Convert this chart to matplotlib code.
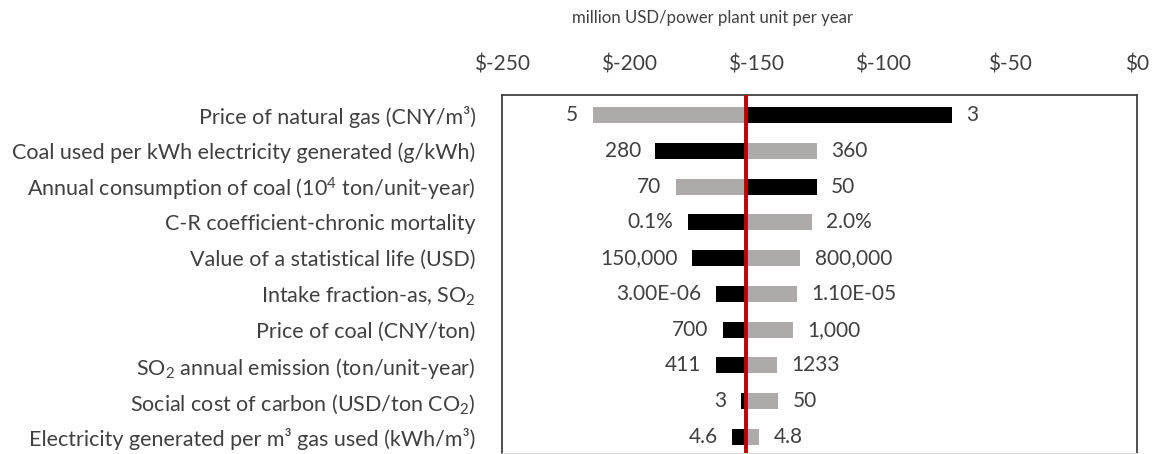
import numpy as np
import matplotlib
matplotlib.use("Agg")
import matplotlib.pyplot as plt
from matplotlib.ticker import FuncFormatter, MultipleLocator

plt.rcParams["font.family"] = ["Lato", "DejaVu Sans"]
plt.rcParams["mathtext.default"] = "regular"

# tornado chart data: result (million USD / unit-year) at low and high input values
labels = [
    "Price of natural gas (CNY/m\u00b3)",
    "Coal used per kWh electricity generated (g/kWh)",
    "Annual consumption of coal (10$^{4}$ ton/unit-year)",
    "C-R coefficient-chronic mortality",
    "Value of a statistical life (USD)",
    "Intake fraction-as, SO$_{2}$",
    "Price of coal (CNY/ton)",
    "SO$_{2}$ annual emission (ton/unit-year)",
    "Social cost of carbon (USD/ton CO$_{2}$)",
    "Electricity generated per m\u00b3 gas used (kWh/m\u00b3)",
]
low_text = ["3", "280", "50", "0.1%", "150,000", "3.00E-06", "700", "411", "3", "4.6"]
high_text = ["5", "360", "70", "2.0%", "800,000", "1.10E-05", "1,000", "1233", "50", "4.8"]
low_result = [-73.0, -189.6, -126.1, -176.9, -175.2, -165.7, -163.1, -165.7, -156.0, -159.3]
high_result = [-214.3, -126.1, -181.5, -128.1, -132.7, -134.0, -135.6, -141.9, -141.2, -148.7]
base = -154.0

BLACK = "#000000"
GREY = "#aeaaaa"
RED = "#c00000"
TXT = "#404040"
FS = 15

W, H = 1156, 454
fig = plt.figure(figsize=(W / 100, H / 100), dpi=100)
ax = fig.add_axes([502 / W, 1 / H, 635 / W, 358 / H])

y = np.arange(len(labels))
bh = 0.45

ax.barh(y, np.array(low_result) - base, left=base, height=bh, color=BLACK)
ax.barh(y, np.array(high_result) - base, left=base, height=bh, color=GREY)
ax.axvline(base, color=RED, lw=2.8, zorder=5)

# value labels at the outer end of each bar
for yi, v, t in list(zip(y, low_result, low_text)) + list(zip(y, high_result, high_text)):
    if v < base:
        ax.annotate(t, (v, yi), xytext=(-10.5, 0), textcoords="offset points",
                    ha="right", va="center", fontsize=FS, color=TXT)
    else:
        ax.annotate(t, (v, yi), xytext=(10.5, 0), textcoords="offset points",
                    ha="left", va="center", fontsize=FS, color=TXT)

ax.set_xlim(-250, 0)
ax.set_ylim(9.45, -0.56)
ax.set_yticks(y)
ax.set_yticklabels(labels, fontsize=15.5, color=TXT)
ax.tick_params(axis="y", length=0, pad=19)

ax.xaxis.set_major_locator(MultipleLocator(50))
ax.xaxis.set_major_formatter(FuncFormatter(lambda v, p: "\\$%d" % v))
ax.xaxis.tick_top()
ax.tick_params(axis="x", length=0, pad=15, labelsize=FS, labelcolor=TXT)

# axis title sits left of the axis centre in the original
fig.text(713 / W, 1 - 18 / H, "million USD/power plant unit per year",
         fontsize=12.1, color=TXT, ha="center", va="center")

for side in ["top", "left", "right"]:
    ax.spines[side].set_color("#404040")
    ax.spines[side].set_linewidth(1.3)
ax.spines["bottom"].set_color("#d9d9d9")

fig.savefig("out.png", dpi=100)
